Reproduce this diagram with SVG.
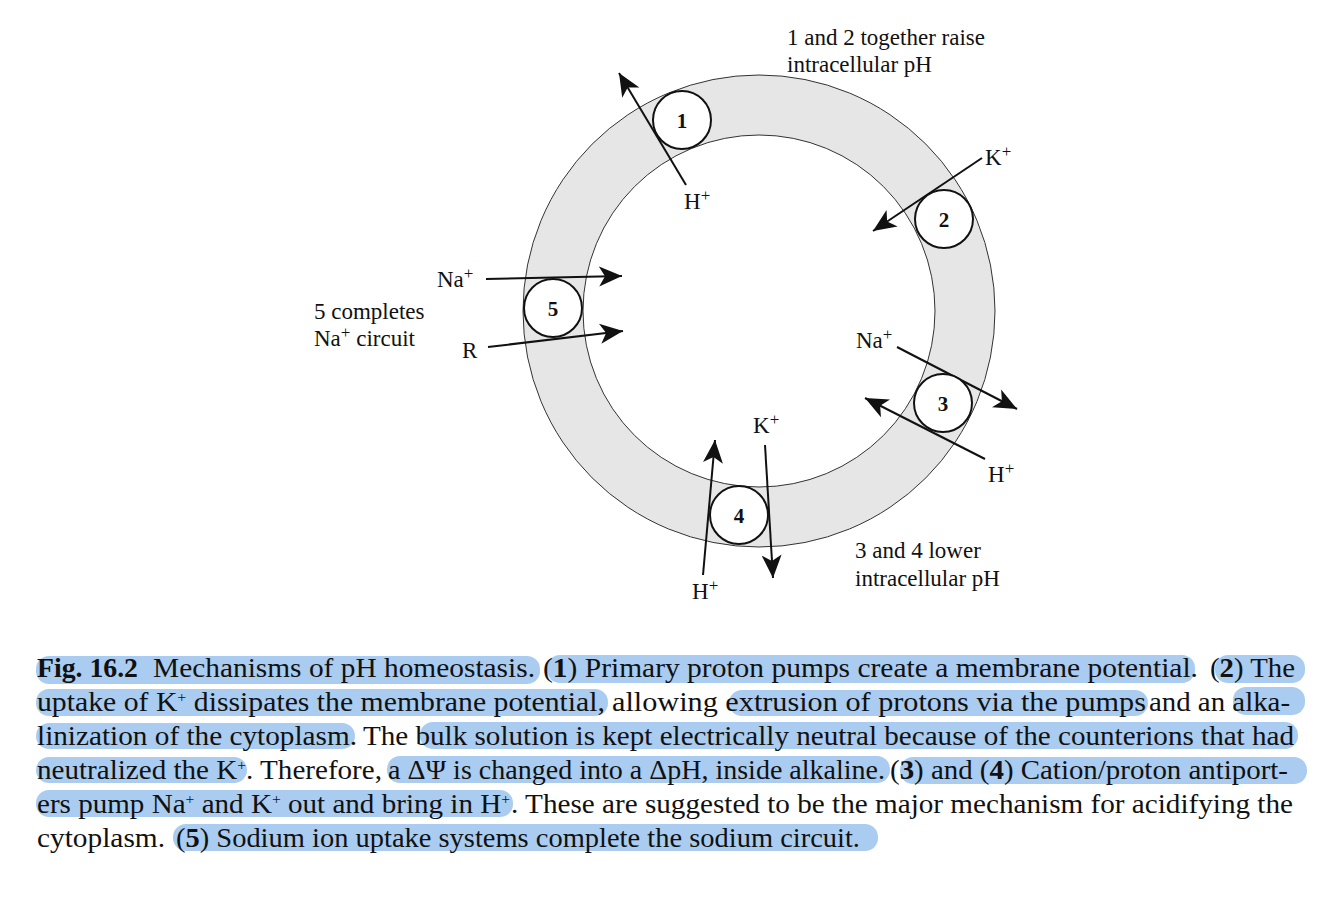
<svg xmlns="http://www.w3.org/2000/svg" width="1334" height="914" viewBox="0 0 1334 914">
<style>
.lbl{font-family:"Liberation Serif","Times New Roman",serif;font-size:23px;fill:#111}
.sup{font-size:17px}
.csup{font-size:15px}
.num{font-family:"Liberation Serif","Times New Roman",serif;font-size:21px;font-weight:bold;fill:#111;text-anchor:middle}
.pump{fill:#fff;stroke:#111;stroke-width:2}
.arr{stroke:#111;stroke-width:2;fill:none;marker-end:url(#ah)}
.cap{font-family:"Liberation Serif","DejaVu Serif","Times New Roman",serif;font-size:28px;fill:#111}
.hl{fill:#a9ccf0}
</style>
<defs>
<marker id="ah" viewBox="0 -11 25 22" markerUnits="userSpaceOnUse" markerWidth="25" markerHeight="22" refX="23" refY="0" orient="auto">
<path d="M0,-10 L23,0 L0,10 L6,0 Z" fill="#111"/>
</marker>
</defs>
<rect width="1334" height="914" fill="#fff"/>

<g id="membrane">
<circle cx="759" cy="311" r="236" fill="#e6e6e6" stroke="#333" stroke-width="1"/>
<circle cx="759" cy="311" r="176" fill="#fff" stroke="#333" stroke-width="1"/>
</g>

<g id="connectors">
<line class="arr" x1="686" y1="185" x2="619" y2="73"/>
<line class="arr" x1="982" y1="158" x2="873" y2="231"/>
<line class="arr" x1="486" y1="279" x2="622" y2="276"/>
<line class="arr" x1="488" y1="347" x2="623" y2="331"/>
<line class="arr" x1="897" y1="347" x2="1017" y2="409"/>
<line class="arr" x1="985" y1="459" x2="865" y2="398"/>
<line class="arr" x1="703" y1="575" x2="715" y2="440"/>
<line class="arr" x1="765" y1="445" x2="773" y2="578"/>
</g>

<g id="pump1"><circle class="pump" cx="682" cy="120" r="29"/><text class="num" x="682" y="128">1</text></g>
<g id="pump2"><circle class="pump" cx="944" cy="219" r="29"/><text class="num" x="944" y="227">2</text></g>
<g id="pump3"><circle class="pump" cx="943" cy="403" r="29"/><text class="num" x="943" y="411">3</text></g>
<g id="pump4"><circle class="pump" cx="739" cy="515" r="29"/><text class="num" x="739" y="523">4</text></g>
<g id="pump5"><circle class="pump" cx="553" cy="308" r="29"/><text class="num" x="553" y="316">5</text></g>

<g id="labels">
<text class="lbl" x="787" y="45">1 and 2 together raise</text>
<text class="lbl" x="787" y="72">intracellular pH</text>
<text class="lbl" x="985" y="165">K<tspan class="sup" dy="-8">+</tspan></text>
<text class="lbl" x="684" y="209">H<tspan class="sup" dy="-8">+</tspan></text>
<text class="lbl" x="437" y="287">Na<tspan class="sup" dy="-8">+</tspan></text>
<text class="lbl" x="314" y="319">5 completes</text>
<text class="lbl" x="314" y="346">Na<tspan class="sup" dy="-8">+</tspan><tspan dy="8"> circuit</tspan></text>
<text class="lbl" x="462" y="358">R</text>
<text class="lbl" x="856" y="348">Na<tspan class="sup" dy="-8">+</tspan></text>
<text class="lbl" x="988" y="482">H<tspan class="sup" dy="-8">+</tspan></text>
<text class="lbl" x="753" y="433">K<tspan class="sup" dy="-8">+</tspan></text>
<text class="lbl" x="692" y="599">H<tspan class="sup" dy="-8">+</tspan></text>
<text class="lbl" x="855" y="558">3 and 4 lower</text>
<text class="lbl" x="855" y="586">intracellular pH</text>
</g>

<g id="highlights">
<rect class="hl" x="36" y="656" width="504" height="28" rx="13"/>
<rect class="hl" x="547" y="655" width="648" height="28" rx="13"/>
<rect class="hl" x="1215" y="655" width="90" height="28" rx="13"/>
<rect class="hl" x="36" y="689" width="572" height="27" rx="13"/>
<rect class="hl" x="729" y="690" width="419" height="26" rx="13"/>
<rect class="hl" x="1233" y="687" width="72" height="28" rx="13"/>
<rect class="hl" x="36" y="723" width="319" height="26" rx="13"/>
<rect class="hl" x="420" y="722" width="878" height="27" rx="13"/>
<rect class="hl" x="36" y="757" width="211" height="26" rx="13"/>
<rect class="hl" x="387" y="756" width="503" height="27" rx="13"/>
<rect class="hl" x="900" y="757" width="407" height="27" rx="13"/>
<rect class="hl" x="36" y="790" width="477" height="27" rx="13"/>
<rect class="hl" x="173" y="824" width="705" height="27" rx="13"/>
</g>

<g id="caption">
<text class="cap" x="37" y="677" font-weight="bold" textLength="101" lengthAdjust="spacingAndGlyphs">Fig. 16.2</text>
<text class="cap" x="153" y="677" textLength="382" lengthAdjust="spacingAndGlyphs">Mechanisms of pH homeostasis.</text>
<text class="cap" x="543" y="677" textLength="655" lengthAdjust="spacingAndGlyphs">(<tspan font-weight="bold">1</tspan>) Primary proton pumps create a membrane potential.</text>
<text class="cap" x="1210" y="677" textLength="85" lengthAdjust="spacingAndGlyphs">(<tspan font-weight="bold">2</tspan>) The</text>

<text class="cap" x="37" y="711" textLength="568" lengthAdjust="spacingAndGlyphs">uptake of K<tspan class="csup" baseline-shift="9">+</tspan> dissipates the membrane potential,</text>
<text class="cap" x="612" y="711" textLength="534" lengthAdjust="spacingAndGlyphs">allowing extrusion of protons via the pumps</text>
<text class="cap" x="1149" y="711" textLength="141" lengthAdjust="spacingAndGlyphs">and an alka-</text>

<text class="cap" x="37" y="745" textLength="320" lengthAdjust="spacingAndGlyphs">linization of the cytoplasm.</text>
<text class="cap" x="363" y="745" textLength="931" lengthAdjust="spacingAndGlyphs">The bulk solution is kept electrically neutral because of the counterions that had</text>

<text class="cap" x="37" y="779" textLength="345" lengthAdjust="spacingAndGlyphs">neutralized the K<tspan class="csup" baseline-shift="9">+</tspan>. Therefore,</text>
<text class="cap" x="388" y="779" textLength="497" lengthAdjust="spacingAndGlyphs">a ΔΨ is changed into a ΔpH, inside alkaline.</text>
<text class="cap" x="890" y="779" textLength="398" lengthAdjust="spacingAndGlyphs">(<tspan font-weight="bold">3</tspan>) and (<tspan font-weight="bold">4</tspan>) Cation/proton antiport-</text>

<text class="cap" x="37" y="813" textLength="473" lengthAdjust="spacingAndGlyphs">ers pump Na<tspan class="csup" baseline-shift="9">+</tspan> and K<tspan class="csup" baseline-shift="9">+</tspan> out and bring in H<tspan class="csup" baseline-shift="9">+</tspan></text>
<text class="cap" x="511" y="813" textLength="782" lengthAdjust="spacingAndGlyphs">. These are suggested to be the major mechanism for acidifying the</text>

<text class="cap" x="37" y="847" textLength="128" lengthAdjust="spacingAndGlyphs">cytoplasm.</text>
<text class="cap" x="176" y="847" textLength="684" lengthAdjust="spacingAndGlyphs">(<tspan font-weight="bold">5</tspan>) Sodium ion uptake systems complete the sodium circuit.</text>
</g>
</svg>
